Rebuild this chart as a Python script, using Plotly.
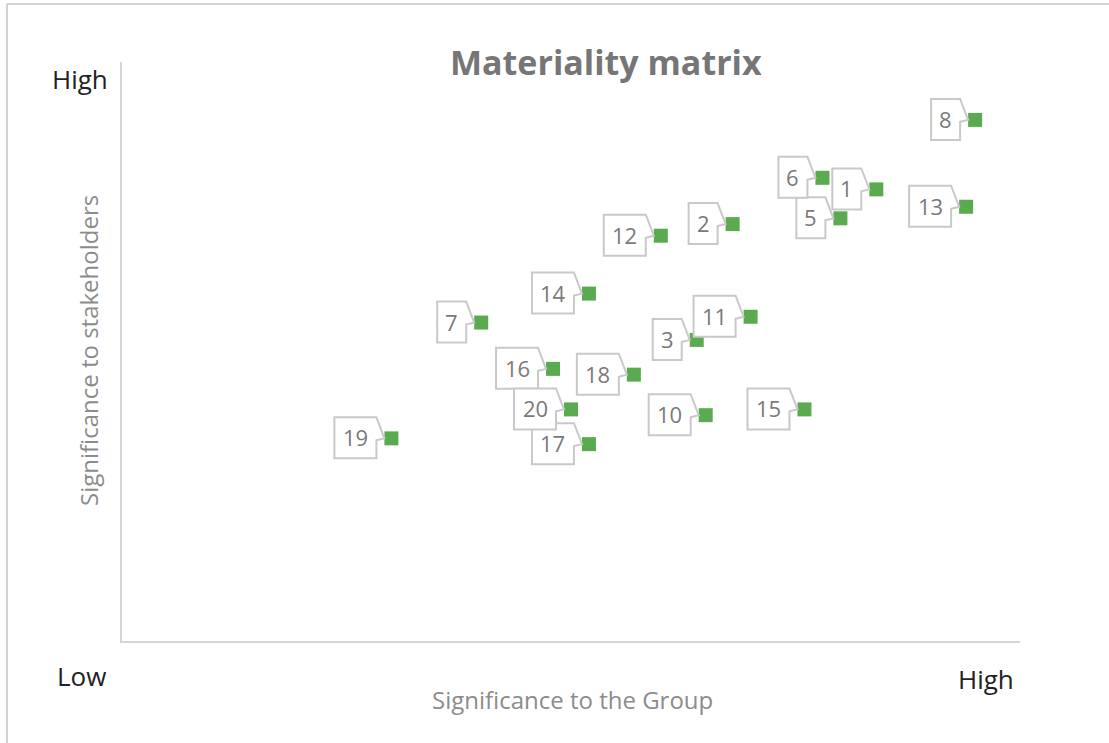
import plotly.graph_objects as go

# ---- data ----
labels = ["8", "6", "1", "13", "5", "2", "12", "14", "7", "11",
          "3", "16", "18", "20", "10", "15", "19", "17"]
group_sig = [9.5, 7.8, 8.4, 9.4, 8.0, 6.8, 6.0, 5.2, 4.0, 7.0,
             6.4, 4.8, 5.7, 5.0, 6.5, 7.6, 3.0, 5.2]
stake_sig = [9.0, 8.0, 7.8, 7.5, 7.3, 7.2, 7.0, 6.0, 5.5, 5.6,
             5.2, 4.7, 4.6, 4.0, 3.9, 4.0, 3.5, 3.4]

# drawing order (label number ascending, later on top)
order = sorted(range(len(labels)), key=lambda i: int(labels[i]))

W, H = 1109, 743
ML, MR, MT, MB = 122, 89, 62, 102
PW, PH = W - ML - MR, H - MT - MB


def px(xp):
    return (xp - ML) / PW


def py(yp):
    return (H - MB - yp) / PH


GREEN = "#5AAA50"
BOX = "#C9C9C9"
TXT = "#7A7A7A"

fig = go.Figure()
fig.add_trace(go.Scatter(
    x=group_sig, y=stake_sig, mode="markers",
    marker=dict(symbol="square", size=14, color=GREEN, line=dict(width=0)),
    hoverinfo="skip", showlegend=False))

shapes = []
annotations = []
R, T, B = -15, -21, 20
for i in order:
    w = 29 if len(labels[i]) == 1 else 42
    L = R - w
    pts = [(L, T), (R, T), (-7, 0), (R, 2), (R, B), (L, B)]
    path = "M " + " L ".join(f"{a},{-b}" for a, b in pts) + " Z"
    shapes.append(dict(type="path", xref="x", yref="y",
                       xsizemode="pixel", ysizemode="pixel",
                       xanchor=group_sig[i], yanchor=stake_sig[i],
                       path=path, fillcolor="white",
                       line=dict(color=BOX, width=2), layer="above"))
    annotations.append(dict(x=group_sig[i], y=stake_sig[i], xref="x", yref="y",
                            text=labels[i], showarrow=False,
                            xanchor="center", yanchor="middle",
                            xshift=R - w / 2, yshift=1,
                            font=dict(family="Open Sans", size=22, color=TXT)))

# outer frame (top and left edges visible)
shapes.append(dict(type="line", xref="paper", yref="paper",
                   x0=px(7), x1=px(W + 5), y0=py(4), y1=py(4),
                   line=dict(color="#C4C4C4", width=1.5), layer="above"))
shapes.append(dict(type="line", xref="paper", yref="paper",
                   x0=px(7), x1=px(7), y0=py(4), y1=py(H + 5),
                   line=dict(color="#C4C4C4", width=1.5), layer="above"))


def note(text, xp, yp, size, color, angle=0):
    return dict(text=text, x=px(xp), y=py(yp), xref="paper", yref="paper",
                xanchor="center", yanchor="middle", showarrow=False,
                textangle=angle, font=dict(family="Open Sans", size=size, color=color))


annotations += [
    note("<b>Materiality matrix</b>", 606, 62, 34, "#767676"),
    note("High", 80, 79, 26, "#222222"),
    note("Low", 81, 676, 26, "#222222"),
    note("High", 986, 679, 26, "#222222"),
    note("Significance to the Group", 572, 699, 24, "#8C8C8C"),
    note("Significance to stakeholders", 88, 351, 24, "#8C8C8C", -90),
]

axis_common = dict(range=[0, 10], showline=True, linecolor="#D6D6D6", linewidth=2,
                   showgrid=False, zeroline=False, showticklabels=False, ticks="")
fig.update_layout(
    width=W, height=H,
    margin=dict(l=ML, r=MR, t=MT, b=MB),
    paper_bgcolor="white", plot_bgcolor="white",
    xaxis=axis_common, yaxis=axis_common,
    shapes=shapes, annotations=annotations,
    showlegend=False,
)
fig.write_html("out.html")
